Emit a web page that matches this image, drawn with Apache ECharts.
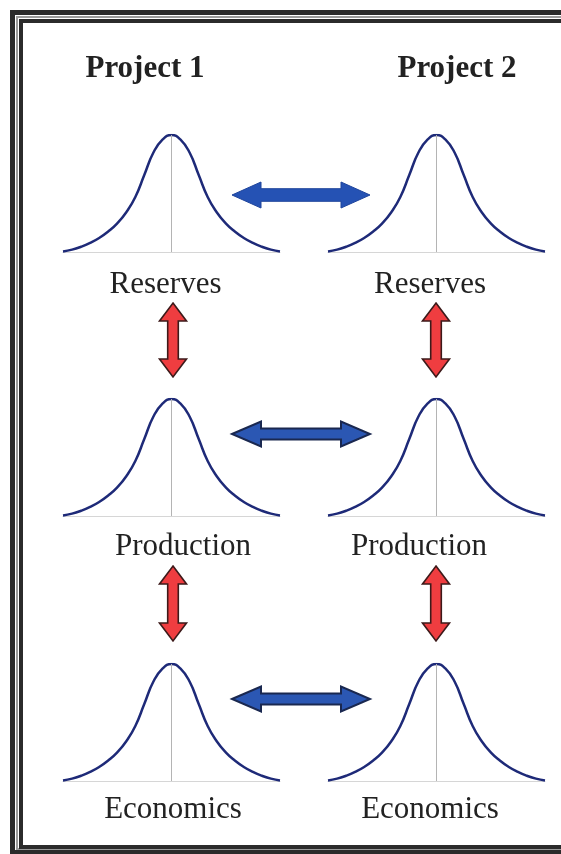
<!DOCTYPE html>
<html>
<head>
<meta charset="utf-8">
<script src="https://cdn.jsdelivr.net/npm/echarts@6/dist/echarts.min.js"></script>
<style>
html,body{margin:0;padding:0;background:#fff;}
#chart{width:561px;height:854px;}
</style>
</head>
<body>
<div id="chart"></div>
<script>
// ---- data ----
var projects = ['Project 1', 'Project 2'];
var metrics = ['Reserves', 'Production', 'Economics'];
// bell curve (relative height vs. position from the centre)
var bellX = [-12, -11, -10, -9, -8, -7, -6, -5, -4, -3, -2, -1, 0, 1, 2, 3, 4, 5, 6, 7, 8, 9, 10, 11, 12];
var bellY = [0.005, 0.02, 0.045, 0.078, 0.12, 0.175, 0.245, 0.34, 0.47, 0.66, 0.85, 0.96, 1,
             0.96, 0.85, 0.66, 0.47, 0.34, 0.245, 0.175, 0.12, 0.078, 0.045, 0.02, 0.005];

// ---- layout ----
var colLeft = [63, 328];
var rowTop = [135, 399, 664];
var gridW = 217, gridH = 117;

var bellData = bellX.map(function (x, i) { return [x, bellY[i]]; });

var grids = [], xAxes = [], yAxes = [], series = [];
var idx = 0;
for (var r = 0; r < metrics.length; r++) {
  for (var c = 0; c < projects.length; c++) {
    grids.push({ left: colLeft[c], top: rowTop[r], width: gridW, height: gridH, containLabel: false });
    xAxes.push({
      type: 'value', gridIndex: idx, min: -12, max: 12,
      axisLine: { show: true, onZero: false, lineStyle: { color: '#d6d6d6', width: 1 } },
      axisTick: { show: false }, axisLabel: { show: false }, splitLine: { show: false }
    });
    yAxes.push({
      type: 'value', gridIndex: idx, min: 0, max: 1,
      axisLine: { show: false }, axisTick: { show: false }, axisLabel: { show: false }, splitLine: { show: false }
    });
    series.push({
      type: 'line', xAxisIndex: idx, yAxisIndex: idx, data: bellData,
      smooth: true, showSymbol: false, symbol: 'none', silent: true,
      lineStyle: { color: '#1e2a78', width: 2.5 },
      markLine: {
        silent: true, symbol: ['none', 'none'], label: { show: false },
        lineStyle: { color: '#b4b4b4', width: 1, type: 'solid' },
        data: [{ xAxis: 0 }]
      },
      z: 3
    });
    idx++;
  }
}

function hArrow(xl, xr, yc, hh, hl, sh) {
  return [[xl, yc], [xl + hl, yc - hh], [xl + hl, yc - sh], [xr - hl, yc - sh], [xr - hl, yc - hh], [xr, yc],
          [xr - hl, yc + hh], [xr - hl, yc + sh], [xl + hl, yc + sh], [xl + hl, yc + hh]];
}
function vArrow(xc, yt, yb, hw, hl, sw) {
  return [[xc, yt], [xc + hw, yt + hl], [xc + sw, yt + hl], [xc + sw, yb - hl], [xc + hw, yb - hl], [xc, yb],
          [xc - hw, yb - hl], [xc - sw, yb - hl], [xc - sw, yt + hl], [xc - hw, yt + hl]];
}

var serif = '"Liberation Serif", "Times New Roman", serif';
var graphics = [];
// frame
graphics.push({ type: 'rect', shape: { x: 12.5, y: 12.5, width: 600, height: 840 }, style: { fill: 'none', stroke: '#2b2b2b', lineWidth: 5 }, z: 1 });
graphics.push({ type: 'rect', shape: { x: 17, y: 17, width: 600, height: 832 }, style: { fill: 'none', stroke: '#9a9a9a', lineWidth: 2 }, z: 1 });
graphics.push({ type: 'rect', shape: { x: 21, y: 21, width: 600, height: 826 }, style: { fill: 'none', stroke: '#2b2b2b', lineWidth: 4 }, z: 1 });

// titles
var titleX = [145, 457];
projects.forEach(function (p, i) {
  graphics.push({ type: 'text', x: titleX[i], y: 69, style: { text: p, font: 'bold 31px ' + serif, fill: '#222', textAlign: 'center', textVerticalAlign: 'middle', align: 'center', verticalAlign: 'middle' }, z: 5 });
});
// metric labels
var labelX = [[165.5, 430], [183, 419], [173, 430]];
var labelY = [285, 547, 810];
metrics.forEach(function (m, r) {
  for (var c = 0; c < 2; c++) {
    graphics.push({ type: 'text', x: labelX[r][c], y: labelY[r], style: { text: m, font: '31px ' + serif, fill: '#222', textAlign: 'center', textVerticalAlign: 'middle', align: 'center', verticalAlign: 'middle' }, z: 5 });
  }
});
// blue horizontal arrows
var hY = [195, 434, 699];
hY.forEach(function (y, r) {
  var first = r === 0;
  graphics.push({
    type: 'polygon', shape: { points: hArrow(232, 370, y, first ? 13 : 12.5, 29, first ? 6.3 : 5.5) },
    style: { fill: first ? '#2552b4' : '#2b57b3', stroke: first ? '#1f459c' : '#1a2850', lineWidth: first ? 1 : 2, lineJoin: 'miter' }, z: 4
  });
});
// red vertical arrows
var vSpans = [[303, 377], [566, 641]];
var vX = [173, 436];
vSpans.forEach(function (s) {
  vX.forEach(function (x) {
    graphics.push({
      type: 'polygon', shape: { points: vArrow(x, s[0], s[1], 13.5, 18, 5.3) },
      style: { fill: '#ef3d40', stroke: '#3d1a1a', lineWidth: 1.6, lineJoin: 'miter' }, z: 4
    });
  });
});

var chart = echarts.init(document.getElementById('chart'), null, { renderer: 'canvas' });
chart.setOption({
  backgroundColor: '#ffffff',
  animation: false,
  grid: grids,
  xAxis: xAxes,
  yAxis: yAxes,
  series: series,
  graphic: graphics
});
</script>
</body>
</html>
